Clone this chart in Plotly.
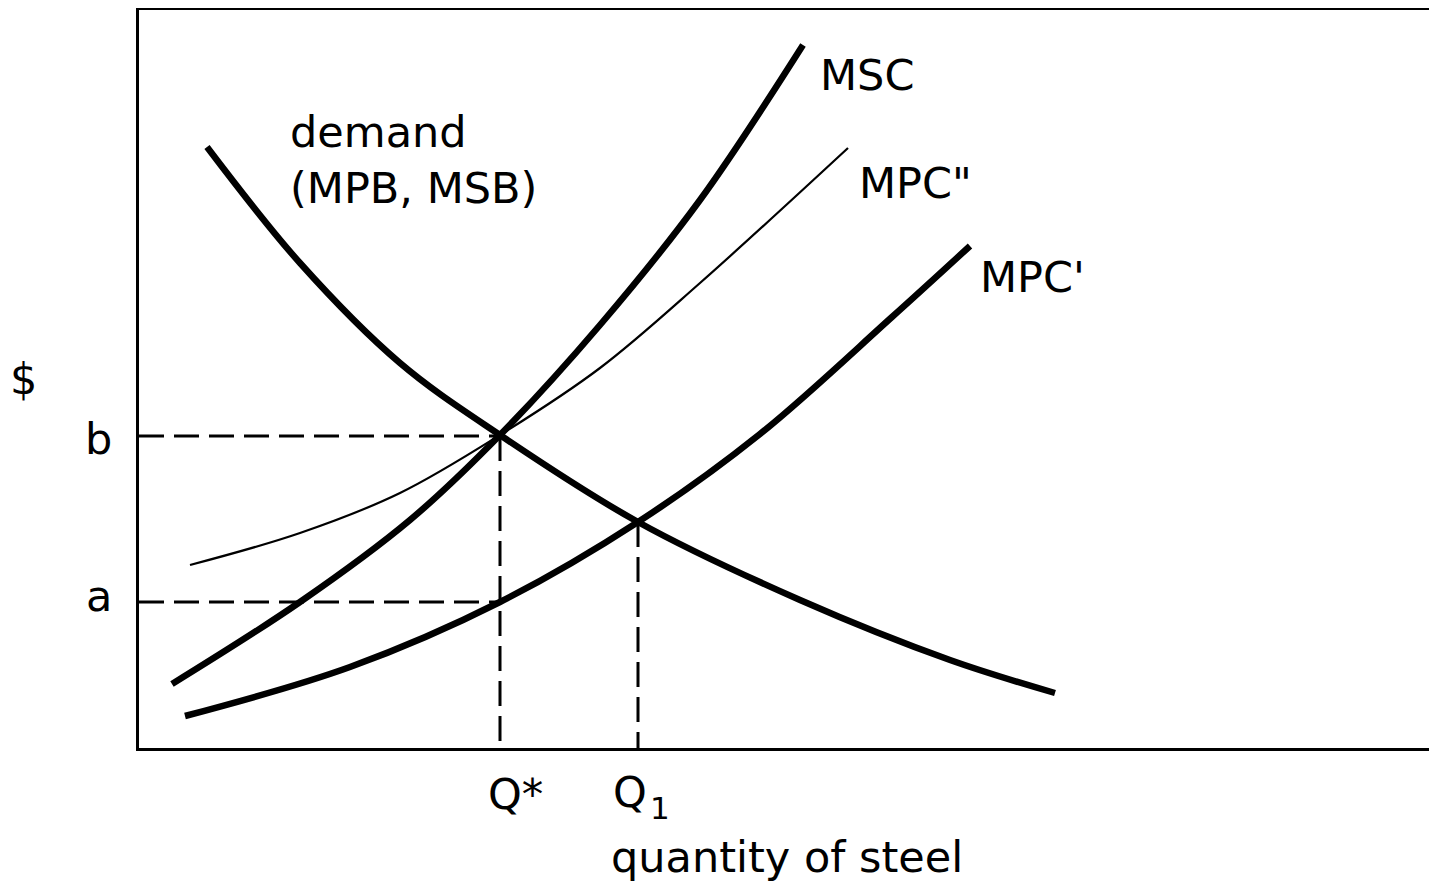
import plotly.graph_objects as go

# ---- data (arbitrary units) ----
demand_q = [6.9, 16.2, 26.2, 36.2, 50.0, 66.2, 81.2, 91.7]
demand_p = [60.3, 48.7, 38.7, 31.5, 22.8, 15.0, 9.0, 5.7]

msc_q = [3.4, 16.2, 27.2, 36.2, 46.2, 56.2, 66.5]
msc_p = [6.6, 14.8, 23.0, 31.5, 42.5, 55.0, 70.5]

mpc2_q = [5.2, 16.2, 26.2, 36.2, 46.2, 56.2, 71.0]
mpc2_p = [18.5, 21.7, 25.7, 31.5, 38.2, 46.7, 60.2]

mpc1_q = [4.7, 21.2, 36.2, 50.0, 62.2, 75.4, 83.2]
mpc1_p = [3.4, 8.3, 14.8, 22.8, 31.6, 43.3, 50.4]

q_star = 36.2
q_one = 50.0
price_b = 31.4
price_a = 14.8
price_q1 = 22.8

X_RANGE = [0.1, 129.9]
Y_RANGE = [0.2, 74.0]

FONT = "DejaVu Sans"
FS = 43

fig = go.Figure()

# dashed guide lines
dash = "25px,10px"
guides = [
    ([0.1, q_star], [price_b, price_b]),
    ([q_star, q_star], [price_b, 0.2]),
    ([0.1, q_star], [price_a, price_a]),
    ([q_one, q_one], [price_q1, 0.2]),
]
for gx, gy in guides:
    fig.add_trace(go.Scatter(x=gx, y=gy, mode="lines",
                             line=dict(color="black", width=3, dash=dash),
                             hoverinfo="skip", showlegend=False))

fig.add_trace(go.Scatter(x=mpc2_q, y=mpc2_p, mode="lines", line=dict(color="black", width=2.2, shape="spline"),
                         hoverinfo="skip", showlegend=False))
for qx, py in [(demand_q, demand_p), (msc_q, msc_p), (mpc1_q, mpc1_p)]:
    fig.add_trace(go.Scatter(x=qx, y=py, mode="lines", line=dict(color="black", width=6.5, shape="spline"),
                             hoverinfo="skip", showlegend=False))


def to_paper(x, y):
    return ((x - X_RANGE[0]) / (X_RANGE[1] - X_RANGE[0]),
            (y - Y_RANGE[0]) / (Y_RANGE[1] - Y_RANGE[0]))


def ann(text, x, y, xanchor="center", size=FS, align="center"):
    px, py = to_paper(x, y)
    fig.add_annotation(text=text, x=px, y=py, xref="paper", yref="paper", showarrow=False,
                       xanchor=xanchor, yanchor="middle", align=align,
                       font=dict(family=FONT, size=size, color="black"))


ann("MSC", 68.0, 67.5, "left")
ann('MPC"', 71.9, 56.7, "left")
ann("MPC'", 84.0, 47.3, "left")
ann("demand<br>(MPB, MSB)", 15.0, 59.0, "left", align="left")
ann("$", -11.5, 37.1)
ann("b", -4.0, 31.1)
ann("a", -3.9, 15.4)
ann("Q*", 37.7, -4.4)
ann("Q", 49.2, -4.2)
ann("1", 52.2, -5.8, size=31)
ann("quantity of steel", 64.9, -10.7)

fig.update_layout(
    width=1429, height=874,
    margin=dict(l=131, r=0, t=2, b=134),
    paper_bgcolor="white", plot_bgcolor="white",
    showlegend=False,
    xaxis=dict(range=X_RANGE, showgrid=False, zeroline=False, showticklabels=False, ticks="",
               showline=True, linecolor="black", linewidth=3, mirror=True, fixedrange=True),
    yaxis=dict(range=Y_RANGE, showgrid=False, zeroline=False, showticklabels=False, ticks="",
               showline=True, linecolor="black", linewidth=3, mirror=False, fixedrange=True),
)

fig.write_html("out.html", config={"displayModeBar": False})
